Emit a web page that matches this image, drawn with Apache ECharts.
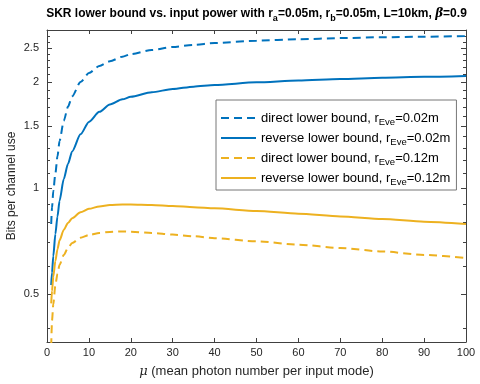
<!DOCTYPE html>
<html><head><meta charset="utf-8">
<script src="https://cdn.jsdelivr.net/npm/echarts@6/dist/echarts.min.js"></script>
<style>html,body{margin:0;padding:0;background:#fff}#c{width:480px;height:384px}</style>
</head><body><div id="c"></div>
<script>
// ---- data ----
const mu = [1, 1.2, 1.5, 2, 2.5, 3, 4, 5, 6, 8, 10, 12.5, 15, 18, 20, 25, 30, 35, 40, 50, 60, 70, 80, 90, 100];
const directNear  = [0.79, 0.88, 0.98, 1.10, 1.23, 1.36, 1.55, 1.70, 1.82, 2.00, 2.12, 2.22, 2.29, 2.36, 2.40, 2.465, 2.515, 2.55, 2.58, 2.62, 2.645, 2.665, 2.68, 2.69, 2.70];
const reverseNear = [0.53, 0.575, 0.64, 0.74, 0.83, 0.92, 1.06, 1.17, 1.27, 1.42, 1.54, 1.645, 1.725, 1.785, 1.815, 1.87, 1.91, 1.94, 1.96, 1.995, 2.02, 2.04, 2.055, 2.068, 2.08];
const directFar   = [0.355, 0.42, 0.467, 0.53, 0.57, 0.605, 0.645, 0.675, 0.697, 0.722, 0.735, 0.745, 0.75, 0.752, 0.751, 0.745, 0.737, 0.729, 0.72, 0.705, 0.69, 0.675, 0.66, 0.645, 0.632];
const reverseFar  = [0.47, 0.51, 0.56, 0.62, 0.67, 0.71, 0.76, 0.795, 0.82, 0.853, 0.872, 0.886, 0.894, 0.898, 0.898, 0.895, 0.888, 0.882, 0.875, 0.86, 0.845, 0.83, 0.816, 0.802, 0.79];
const seriesNames = ['direct lower bound, r_Eve=0.02m', 'reverse lower bound, r_Eve=0.02m', 'direct lower bound, r_Eve=0.12m', 'reverse lower bound, r_Eve=0.12m'];
const legendLabels = ['direct lower bound, r{sub|Eve}=0.02m', 'reverse lower bound, r{sub|Eve}=0.02m', 'direct lower bound, r{sub|Eve}=0.12m', 'reverse lower bound, r{sub|Eve}=0.12m'];
const yMajorTicks = [0.5, 1, 1.5, 2, 2.5];
const yMinorTicks = [0.4, 0.6, 0.7, 0.8, 0.9, 1.1, 1.2, 1.3, 1.4, 1.6, 1.7, 1.8, 1.9, 2.1, 2.2, 2.3, 2.4, 2.6, 2.7, 2.8];
const yMin = 0.365, yMax = 2.81;
const xMin = 0, xMax = 100, xStep = 10;

const FONT = 'Liberation Sans, Arial, Helvetica, sans-serif';
const AX = '#404040';
const TXT = '#262626';
const BLUE = '#0072BD', YELLOW = '#EDB120';

function xAx(pos, labels) {
  return {
    type: 'value', min: xMin, max: xMax, interval: xStep, position: pos,
    axisLine: {show: true, onZero: false, lineStyle: {color: AX, width: 1}},
    axisTick: {show: true, inside: true, length: 4, lineStyle: {color: AX, width: 1}},
    axisLabel: {show: labels, color: TXT, fontSize: 11, fontFamily: FONT, margin: 5},
    splitLine: {show: false},
    name: labels ? '{it|\u03bc} (mean photon number per input mode)' : '',
    nameLocation: 'middle', nameGap: 23, nameMoveOverlap: false,
    nameTextStyle: {color: TXT, fontSize: 13, fontFamily: FONT,
      rich: {it: {fontStyle: 'italic', fontSize: 13, fontFamily: 'DejaVu Serif, serif', color: TXT}}}
  };
}
function yAx(pos, ticks, len, labels, line) {
  return {
    type: 'log', logBase: 10, min: yMin, max: yMax, position: pos,
    axisLine: {show: line, lineStyle: {color: AX, width: 1}},
    axisTick: {show: true, inside: true, length: len, customValues: ticks, lineStyle: {color: AX, width: 1}},
    axisLabel: {show: labels, customValues: ticks, color: TXT, fontSize: 11, fontFamily: FONT, margin: 8},
    splitLine: {show: false}, minorTick: {show: false},
    name: labels ? 'Bits per channel use' : '',
    nameLocation: 'middle', nameGap: 29, nameRotate: 90, nameMoveOverlap: false,
    nameTextStyle: {color: TXT, fontSize: 12, fontFamily: FONT}
  };
}

const chart = echarts.init(document.getElementById('c'), null, {renderer: 'canvas'});
const datasets = [directNear, reverseNear, directFar, reverseFar];
const colors = [BLUE, BLUE, YELLOW, YELLOW];
const dashed = [true, false, true, false];

chart.setOption({
  animation: false,
  backgroundColor: '#fff',
  title: {
    text: 'SKR lower bound vs. input power with r{sub|a}=0.05m, r{sub|b}=0.05m, L=10km, {it|\u03b2}=0.9',
    left: 256.5, textAlign: 'center', top: 5, padding: 0,
    textStyle: {fontSize: 12, fontWeight: 'bold', color: '#000', fontFamily: FONT, lineHeight: 18,
      rich: {
        sub: {fontSize: 9, fontWeight: 'bold', lineHeight: 9, verticalAlign: 'bottom', fontFamily: FONT, color: '#000'},
        it: {fontSize: 12, fontStyle: 'italic', fontWeight: 'bold', fontFamily: 'DejaVu Serif, serif', color: '#000'}
      }}
  },
  grid: {left: 47, right: 14, top: 30, bottom: 42, containLabel: false, outerBoundsMode: 'none'},
  legend: {
    orient: 'vertical', left: 216, top: 100,
    padding: [9, 6, 3, 4], itemGap: 2, itemWidth: 35, itemHeight: 10,
    backgroundColor: '#fff', borderColor: '#777', borderWidth: 1, borderRadius: 0,
    itemStyle: {opacity: 0},
    data: seriesNames,
    formatter: n => legendLabels[seriesNames.indexOf(n)],
    textStyle: {fontSize: 13, color: '#000', fontFamily: FONT, lineHeight: 18,
      rich: {sub: {fontSize: 9.5, lineHeight: 9, verticalAlign: 'bottom', fontFamily: FONT, color: '#000'}}}
  },
  xAxis: [xAx('bottom', true), xAx('top', false)],
  yAxis: [
    yAx('left', yMajorTicks, 5, true, true),
    yAx('left', yMinorTicks, 3, false, false),
    yAx('right', yMajorTicks, 5, false, true),
    yAx('right', yMinorTicks, 3, false, false)
  ],
  series: seriesNames.map((n, i) => ({
    name: n, type: 'line', xAxisIndex: 0, yAxisIndex: 0,
    data: mu.map((m, j) => [m, datasets[i][j]]),
    showSymbol: false, symbol: 'none', smooth: 0.25, smoothMonotone: 'x', clip: true,
    color: colors[i],
    lineStyle: {color: colors[i], width: 2, type: dashed[i] ? [8, 5] : 'solid'}
  }))
});
</script></body></html>
